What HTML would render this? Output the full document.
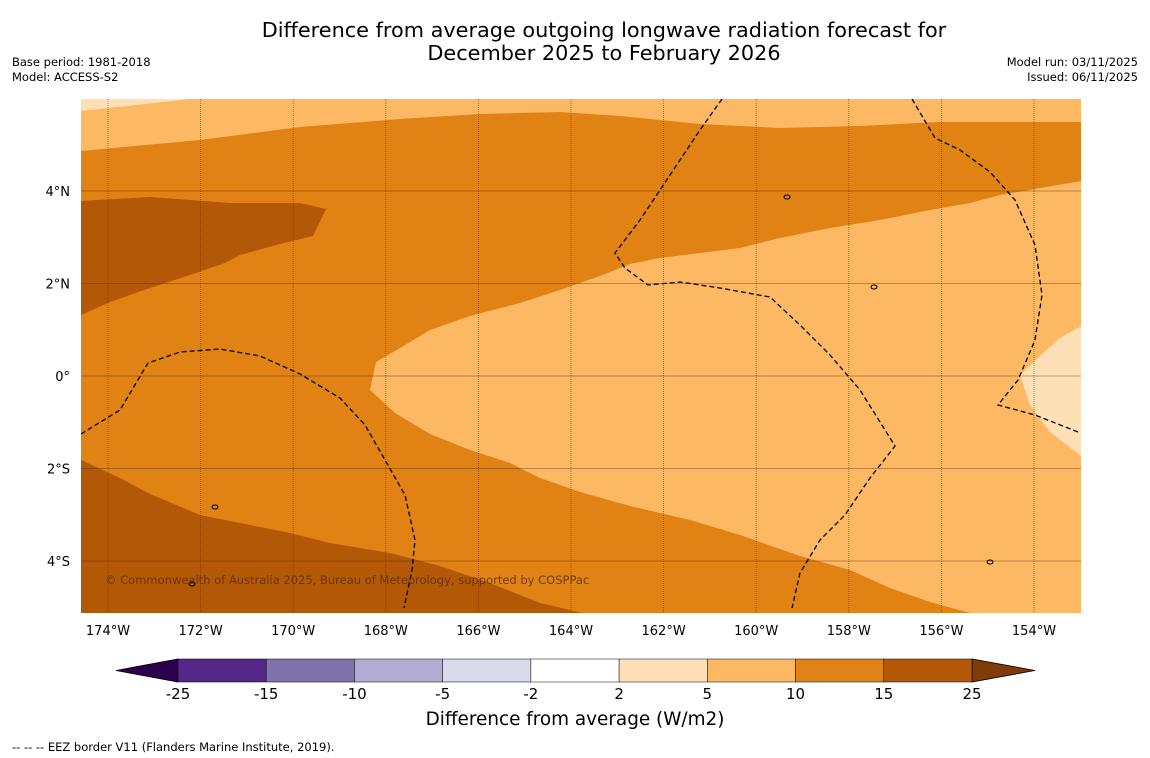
<!DOCTYPE html>
<html><head><meta charset="utf-8"><style>
body{margin:0;background:#fff;font-family:"DejaVu Sans",sans-serif;}
#wrap{position:relative;width:1150px;height:758px;overflow:hidden;background:#fff}
.t{position:absolute;white-space:nowrap;color:#000}
</style></head><body>
<div id="wrap">
<div class="t" style="left:0;width:1208px;top:19px;text-align:center;font-size:20.8px;line-height:23px">Difference from average outgoing longwave radiation forecast for<br>December 2025 to February 2026</div>
<div class="t" style="left:12px;top:55px;font-size:11.5px;line-height:15px">Base period: 1981-2018<br>Model: ACCESS-S2</div>
<div class="t" style="right:12px;top:55px;font-size:11.5px;line-height:15px;text-align:right">Model run: 03/11/2025<br>Issued: 06/11/2025</div>
<svg id="svg" width="1150" height="758" style="position:absolute;left:0;top:0"></svg>
<div class="t" style="left:0;width:1150px;text-align:center;top:709px;font-size:18.4px">Difference from average (W/m2)</div>
<div class="t" style="left:12px;top:740px;font-size:11.5px">--  --  -- EEZ border V11 (Flanders Marine Institute, 2019).</div>
</div>
<script>
const lonTicks=[-174,-172,-170,-168,-166,-164,-162,-160,-158,-156,-154];
const latTicks=[4,2,0,-2,-4];
const cbLevels=[-25,-15,-10,-5,-2,2,5,10,15,25];
const cbColors=["#542788","#8073ac","#b2abd2","#d8daeb","#ffffff","#fee0b6","#fdb863","#e08214","#b35806"];
const cbUnder="#2d004b", cbOver="#7f3b08";
const NS="http://www.w3.org/2000/svg";
const svg=document.getElementById('svg');
const X0=81,X1=1081,Y0=99,Y1=613;
function lx(lon){return 108+(lon+174)*46.3;}
function ly(lat){return 376-lat*46.25;}
function mk(tag,attrs,name){const e=document.createElementNS(NS,tag);for(const k in attrs)e.setAttribute(k,attrs[k]);


svg.appendChild(e);return e;}
const clip=mk('clipPath',{id:'mc'},'map-clip');
const cr=document.createElementNS(NS,'rect');cr.setAttribute('x',X0);cr.setAttribute('y',Y0);cr.setAttribute('width',X1-X0);cr.setAttribute('height',Y1-Y0);clip.appendChild(cr);
mk('rect',{x:X0,y:Y0,width:X1-X0,height:Y1-Y0,fill:cbColors[7]},'map-background');
const regions=[
["top-light-orange",cbColors[6],"81,99 81,151 200,140 300,127 400,119 480,114 560,112 620,116 700,124 780,128 860,126 940,122 1081,122 1081,99"],
["top-left-pale",cbColors[5],"81,99 81,111 190,99"],
["dark-region-north",cbColors[8],"81,201 150,197 230,203 300,203 326,209 313,236 280,244 240,255 225,263 190,275 150,288 110,302 81,315"],
["light-region-east",cbColors[6],"1081,181 1000,195 970,203 930,210 880,220 830,228 780,238 740,248 700,253 660,258 630,264 600,276 560,290 520,303 470,316 430,330 400,348 376,362 370,390 395,413 430,434 470,450 510,463 540,478 580,492 630,506 690,520 740,535 800,556 850,570 890,588 930,602 970,613 1081,613"],
["pale-region-east",cbColors[5],"1081,326 1060,338 1040,356 1020,375 1030,405 1050,432 1081,456"],
["dark-region-south",cbColors[8],"81,460 120,478 150,494 200,515 290,533 330,543 390,553 440,566 490,583 540,603 582,613 81,613"]];
regions.forEach(r=>mk('polygon',{points:r[2],fill:r[1],'clip-path':'url(#mc)'},r[0]));
lonTicks.forEach(l=>{const x=lx(l);mk('line',{x1:x,x2:x,y1:Y0,y2:Y1,stroke:'#333',opacity:0.6,'stroke-width':0.8,'stroke-dasharray':'1,1'},'lon-gridline');
const t=mk('text',{x:x,y:635,'text-anchor':'middle','font-size':13,'font-family':'DejaVu Sans'},'lon-tick-label');t.textContent=Math.abs(l)+'°W';});
latTicks.forEach(l=>{const y=ly(l);mk('line',{x1:X0,x2:X1,y1:y,y2:y,stroke:'#4a2a08',opacity:0.5,'stroke-width':0.8},'lat-gridline');
const t=mk('text',{x:70,y:y+5,'text-anchor':'end','font-size':13,'font-family':'DejaVu Sans'},'lat-tick-label');t.textContent=l===0?'0°':Math.abs(l)+'°'+(l>0?'N':'S');});
const eez=["81,434 120,410 148,363 180,352 220,349 260,356 300,374 340,398 365,425 385,460 405,495 415,540 412,570 404,608",
"722,99 700,130 680,160 660,190 640,220 615,253 625,268 648,285 680,282 720,288 770,297 800,325 830,355 860,390 895,446 870,478 845,515 820,540 800,573 792,608",
"912,99 935,138 960,150 990,172 1015,200 1035,245 1042,295 1035,340 1018,380 998,405 1035,415 1078,432"];
eez.forEach(p=>mk('polyline',{points:p,fill:'none',stroke:'#000','stroke-width':1.3,'stroke-dasharray':'5,3','clip-path':'url(#mc)'},'eez-border'));
[[787,197],[874,287],[215,507],[192,584],[990,562]].forEach(p=>mk('ellipse',{cx:p[0],cy:p[1],rx:3,ry:2,fill:'none',stroke:'#000','stroke-width':1},'island'));
const cp=mk('text',{x:105,y:584,'font-size':11.5,fill:'#5a2e05','font-family':'DejaVu Sans',opacity:0.8},'copyright');cp.textContent='© Commonwealth of Australia 2025, Bureau of Meteorology, supported by COSPPac';
const CB0=178,CB1=972,CY=659,CH=23,n=cbColors.length,w=(CB1-CB0)/n;
mk('polygon',{points:`${CB0},${CY} ${CB0},${CY+CH} 116,${CY+CH/2}`,fill:cbUnder,stroke:'#000','stroke-width':0.8},'colorbar-under');
mk('polygon',{points:`${CB1},${CY} ${CB1},${CY+CH} 1035,${CY+CH/2}`,fill:cbOver,stroke:'#000','stroke-width':0.8},'colorbar-over');
cbColors.forEach((c,i)=>mk('rect',{x:CB0+i*w,y:CY,width:w,height:CH,fill:c,stroke:'#000','stroke-width':0.5},'colorbar-box'));
cbLevels.forEach((v,i)=>{const t=mk('text',{x:CB0+i*w,y:699,'text-anchor':'middle','font-size':15,'font-family':'DejaVu Sans'},'colorbar-tick');t.textContent=v;});
</script>
</body></html>
